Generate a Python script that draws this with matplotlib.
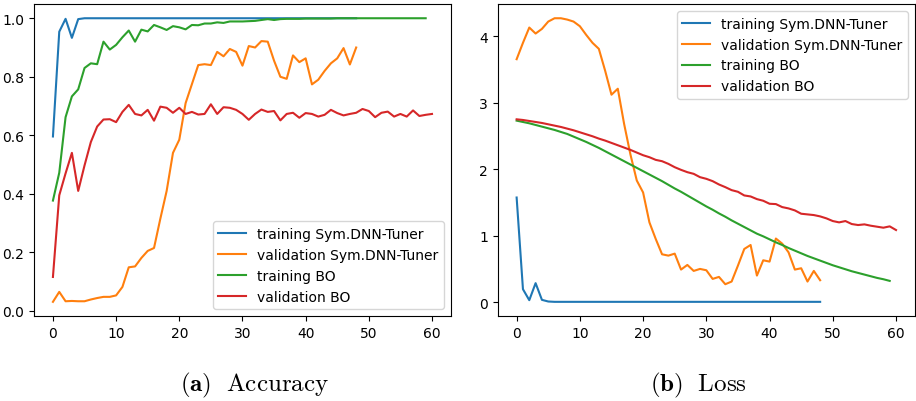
import matplotlib
matplotlib.use("Agg")
import matplotlib.pyplot as plt

plt.rcParams['mathtext.fontset'] = 'cm'

labels = ["training Sym.DNN-Tuner", "validation Sym.DNN-Tuner", "training BO", "validation BO"]

# accuracy
acc_train_sym = [0.596, 0.954, 0.998, 0.933, 0.997] + [1.0] * 44
acc_val_sym = [0.031, 0.065, 0.033, 0.034, 0.033, 0.033, 0.039, 0.044, 0.048, 0.048,
               0.053, 0.082, 0.149, 0.152, 0.181, 0.205, 0.215, 0.315, 0.41, 0.54,
               0.585, 0.71, 0.775, 0.84, 0.843, 0.84, 0.885, 0.87, 0.895, 0.885,
               0.838, 0.905, 0.90, 0.922, 0.92, 0.855, 0.80, 0.793, 0.873, 0.85,
               0.863, 0.774, 0.79, 0.82, 0.846, 0.863, 0.898, 0.842, 0.90]
acc_train_bo = [0.377, 0.472, 0.662, 0.733, 0.757, 0.83, 0.846, 0.843, 0.92, 0.893,
                0.909, 0.935, 0.958, 0.92, 0.961, 0.955, 0.977, 0.969, 0.96, 0.973,
                0.969, 0.962, 0.977, 0.976, 0.982, 0.982, 0.986, 0.984, 0.989, 0.989,
                0.989, 0.99, 0.991, 0.994, 0.997, 0.994, 0.997, 0.998, 0.998, 0.998,
                0.999, 0.999, 0.999, 0.999, 0.999, 1.0, 1.0, 1.0, 1.0, 1.0,
                1.0, 1.0, 1.0, 1.0, 1.0, 1.0, 1.0, 1.0, 1.0, 1.0]
acc_val_bo = [0.116, 0.395, 0.47, 0.54, 0.41, 0.497, 0.577, 0.63, 0.654, 0.655,
              0.645, 0.68, 0.704, 0.673, 0.668, 0.687, 0.65, 0.698, 0.694, 0.677,
              0.694, 0.673, 0.68, 0.671, 0.673, 0.706, 0.673, 0.696, 0.694, 0.687,
              0.673, 0.653, 0.673, 0.688, 0.68, 0.683, 0.651, 0.673, 0.677, 0.66,
              0.676, 0.673, 0.664, 0.67, 0.687, 0.676, 0.668, 0.673, 0.677, 0.69,
              0.683, 0.662, 0.677, 0.681, 0.664, 0.673, 0.664, 0.685, 0.666, 0.67, 0.673]

# loss
loss_train_sym = [1.574, 0.195, 0.03, 0.286, 0.035, 0.01] + [0.005] * 43
loss_val_sym = [3.654, 3.9, 4.13, 4.04, 4.11, 4.22, 4.27, 4.27, 4.25, 4.22,
                4.15, 4.02, 3.9, 3.81, 3.48, 3.12, 3.21, 2.68, 2.22, 1.83,
                1.65, 1.2, 0.95, 0.72, 0.7, 0.73, 0.49, 0.56, 0.47, 0.5,
                0.48, 0.35, 0.38, 0.27, 0.31, 0.55, 0.8, 0.86, 0.4, 0.63,
                0.61, 0.957, 0.88, 0.75, 0.49, 0.51, 0.31, 0.47, 0.33]
loss_train_bo = [2.73, 2.71, 2.69, 2.665, 2.64, 2.615, 2.59, 2.56, 2.53, 2.49,
                 2.45, 2.41, 2.365, 2.32, 2.27, 2.22, 2.17, 2.12, 2.07, 2.02,
                 1.97, 1.92, 1.87, 1.82, 1.765, 1.71, 1.66, 1.605, 1.55, 1.495,
                 1.44, 1.39, 1.335, 1.285, 1.23, 1.18, 1.13, 1.08, 1.03, 0.99,
                 0.945, 0.9, 0.86, 0.815, 0.775, 0.735, 0.695, 0.66, 0.625, 0.59,
                 0.555, 0.525, 0.495, 0.465, 0.44, 0.415, 0.39, 0.365, 0.345, 0.32]
loss_val_bo = [2.75, 2.74, 2.725, 2.71, 2.695, 2.675, 2.655, 2.635, 2.61, 2.585,
               2.555, 2.525, 2.495, 2.46, 2.43, 2.395, 2.36, 2.325, 2.29, 2.25,
               2.21, 2.18, 2.14, 2.12, 2.08, 2.03, 1.99, 1.955, 1.93, 1.88,
               1.855, 1.82, 1.77, 1.73, 1.685, 1.66, 1.605, 1.59, 1.55, 1.525,
               1.48, 1.475, 1.43, 1.41, 1.38, 1.33, 1.32, 1.31, 1.29, 1.26,
               1.22, 1.2, 1.22, 1.175, 1.16, 1.17, 1.15, 1.135, 1.12, 1.14, 1.085]

fig = plt.figure(figsize=(9.16, 4.02), dpi=100)
ax1 = fig.add_axes([0.0371, 0.2114, 0.4552, 0.776])
ax2 = fig.add_axes([0.5433, 0.2114, 0.4556, 0.776])

for ax, series in [(ax1, [acc_train_sym, acc_val_sym, acc_train_bo, acc_val_bo]),
                   (ax2, [loss_train_sym, loss_val_sym, loss_train_bo, loss_val_bo])]:
    for s, lab in zip(series, labels):
        ax.plot(range(len(s)), s, label=lab)
    ax.set_xticks([0, 10, 20, 30, 40, 50, 60])

ax1.set_yticks([0.0, 0.2, 0.4, 0.6, 0.8, 1.0])
ax2.set_yticks([0, 1, 2, 3, 4])
ax1.legend(loc='lower right')
ax2.legend(loc='upper right')

# subfigure captions
fig.text(0.2778, 0.025, r'$\mathbf{(a)}\ \ \mathrm{Accuracy}$', ha='center', va='baseline', fontsize=18)
fig.text(0.7626, 0.025, r'$\mathbf{(b)}\ \ \mathrm{Loss}$', ha='center', va='baseline', fontsize=18)

fig.savefig("out.png", dpi=100)
